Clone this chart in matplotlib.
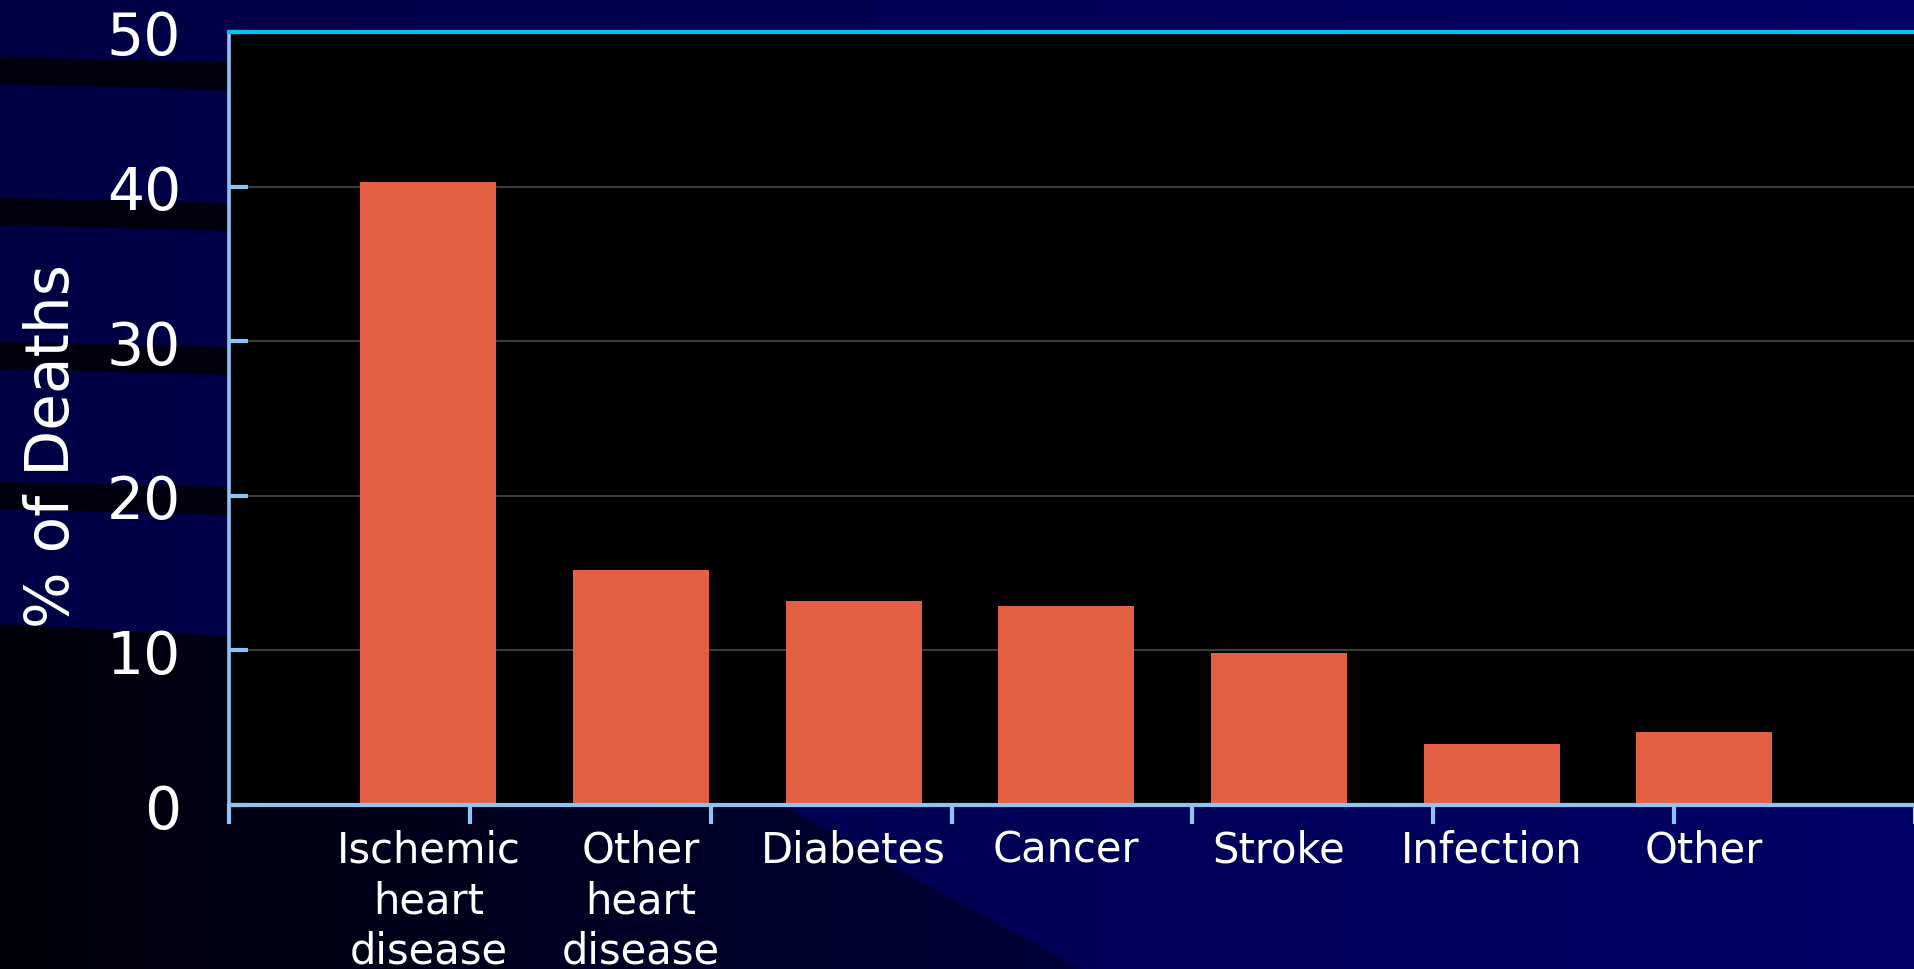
import matplotlib.pyplot as plt
import numpy as np
from matplotlib.patches import Polygon

# Data
categories = ['Ischemic\nheart\ndisease', 'Other\nheart\ndisease', 'Diabetes',
              'Cancer', 'Stroke', 'Infection', 'Other']
deaths_pct = [40.3, 15.2, 13.2, 12.9, 9.85, 3.95, 4.7]
y_ticks = [0, 10, 20, 30, 40, 50]

# Colours
bar_color = '#E36045'
axis_blue = '#8EC4F4'
frame_cyan = '#00C4F0'
grid_gray = '#3C3C3C'

W, H = 1915, 970
fig = plt.figure(figsize=(W / 100, H / 100), dpi=100)

# ----------------------------------------------------------------------------
# Slide background (navy gradient, dark streaks on the left)
bg = fig.add_axes([0, 0, 1, 1], zorder=-10)
bg.set_axis_off()
zeros = np.zeros((1, 256))
navy = np.dstack([zeros, zeros, np.linspace(0.27, 0.40, 256)[None, :]])
bg.imshow(navy, extent=(0, W, H, 0), aspect='auto', interpolation='bilinear')

dark = Polygon([(0, 625), (229, 637), (229, 806), (783, 806), (1080, 970), (0, 970)],
               closed=True, facecolor='none', edgecolor='none')
bg.add_patch(dark)
shade = np.dstack([zeros, zeros, np.linspace(0.04, 0.22, 256)[None, :]])
im = bg.imshow(shade, extent=(0, 1080, H, 600), aspect='auto', interpolation='bilinear')
im.set_clip_path(dark)

for top in [58, 199, 343, 483]:
    bg.add_patch(Polygon([(0, top), (229, top + 5), (229, top + 33), (0, top + 27)],
                         closed=True, facecolor='#00000E', edgecolor='none'))
bg.set_xlim(0, W)
bg.set_ylim(H, 0)

# ----------------------------------------------------------------------------
# Chart
ax = fig.add_axes([229 / W, 1 - 806 / H, 1 - 229 / W, (806 - 33) / H])
ax.set_facecolor('black')

x = np.arange(len(categories))
ax.bar(x, deaths_pct, width=0.64, color=bar_color)

x_min, x_max = -0.938, 6.948
boundary_step = 1.1328
ax.set_xlim(x_min, x_max)
ax.set_ylim(0, 50)

ax.set_xticks(x)
ax.set_xticklabels(categories, linespacing=1.26)
ax.set_xticks(x_min + boundary_step * np.arange(8), minor=True)
ax.set_yticks(y_ticks)

ax.tick_params(axis='x', which='major', length=0, pad=17, labelsize=30, labelcolor='white')
ax.tick_params(axis='x', which='minor', direction='out', length=14, width=3, color=axis_blue)
ax.tick_params(axis='y', direction='in', length=14, width=3, color=axis_blue,
               labelsize=42, labelcolor='white', pad=34.5)

ax.yaxis.grid(True, color=grid_gray, linewidth=1.5)
ax.set_axisbelow(True)

ax.spines['right'].set_visible(False)
ax.spines['left'].set_color(axis_blue)
ax.spines['left'].set_linewidth(2.6)
ax.spines['bottom'].set_color(axis_blue)
ax.spines['bottom'].set_linewidth(3)
ax.spines['top'].set_color(frame_cyan)
ax.spines['top'].set_linewidth(3)

ax.set_ylabel('% of Deaths', fontsize=43, color='white', va='center')
ax.yaxis.set_label_coords(-0.1047, 0.466)

plt.savefig('out.png', dpi=100)
